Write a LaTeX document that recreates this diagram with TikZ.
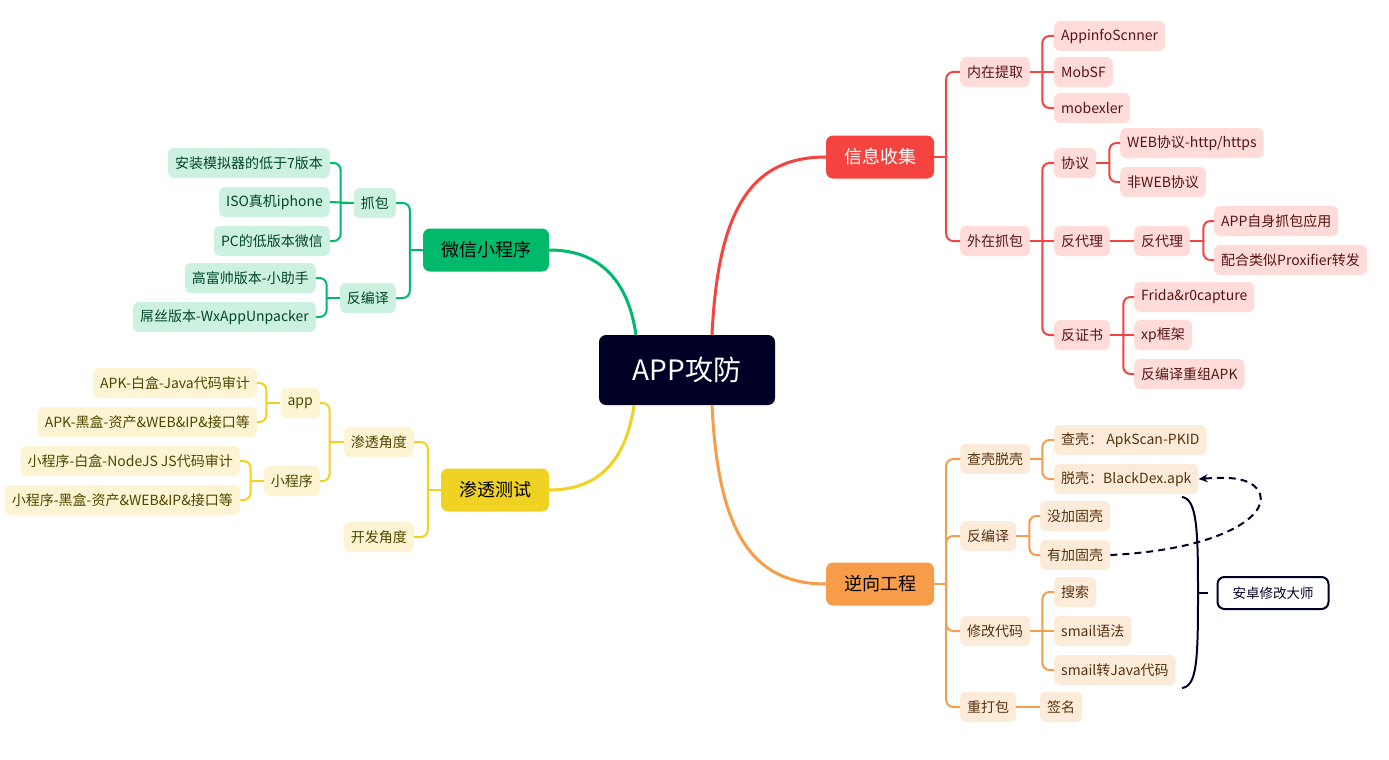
\documentclass[tikz,border=0pt]{standalone}
\usepackage{fontspec}
\setmainfont{Noto Sans CJK SC}
\usetikzlibrary{arrows.meta,calc}
\definecolor{rootC}{RGB}{0,0,38}
\definecolor{redM}{RGB}{245,68,63}
\definecolor{redL}{RGB}{255,220,218}
\definecolor{redT}{RGB}{85,20,20}
\definecolor{orM}{RGB}{247,156,72}
\definecolor{orL}{RGB}{253,235,218}
\definecolor{orT}{RGB}{85,50,15}
\definecolor{grM}{RGB}{0,185,107}
\definecolor{grL}{RGB}{204,241,225}
\definecolor{grT}{RGB}{0,70,40}
\definecolor{yeM}{RGB}{240,210,35}
\definecolor{yeL}{RGB}{252,244,210}
\definecolor{yeT}{RGB}{80,70,0}
\tikzset{
  leaf/.style={rounded corners=6pt, inner xsep=7pt, inner ysep=0pt, minimum height=30pt, font=\fontsize{14}{16}\selectfont},
  rleaf/.style={leaf, fill=redL, text=redT, anchor=west},
  oleaf/.style={leaf, fill=orL, text=orT, anchor=west},
  gleaf/.style={leaf, fill=grL, text=grT, anchor=east},
  yleaf/.style={leaf, fill=yeL, text=yeT, anchor=east},
  mainnode/.style={rounded corners=7pt, minimum height=43pt, inner xsep=0pt, font=\fontsize{18}{22}\selectfont},
  rline/.style={draw=redM, line width=2pt},
  oline/.style={draw=orM, line width=2pt},
  gline/.style={draw=grM, line width=2pt},
  yline/.style={draw=yeM, line width=2pt},
  navyline/.style={draw=rootC, line width=2pt},
}
\newcommand{\rcon}[4]{\draw[#1] (#2.east) -- ++(#4,0) coordinate (jn); \draw[#1,rounded corners=7pt] (jn) |- (#3.west);}
\newcommand{\lcon}[4]{\draw[#1] (#2.west) -- ++(-#4,0) coordinate (jn); \draw[#1,rounded corners=7pt] (jn) |- (#3.east);}
\begin{document}
\begin{tikzpicture}[x=1pt,y=-1pt]
\useasboundingbox[fill=white] (0,0) rectangle (1389,760);

% root and main nodes
\node[fill=rootC, text=white, rounded corners=7pt, minimum width=176pt, minimum height=70pt, font=\fontsize{28}{32}\selectfont] (root) at (687,370) {APP攻防};
\node[mainnode, fill=redM, text=white, minimum width=108pt] (xx) at (880,157) {信息收集};
\node[mainnode, fill=orM, text=black, minimum width=108pt] (nx) at (880,584) {逆向工程};
\node[mainnode, fill=grM, text=black, minimum width=126pt] (wx) at (486,250) {微信小程序};
\node[mainnode, fill=yeM, text=black, minimum width=108pt] (st) at (495,490) {渗透测试};

\draw[redM, line width=3pt] ($(root.north)+(25,0)$) .. controls +(6,-125) and +(-75,0) .. (xx.west);
\draw[orM, line width=3pt] ($(root.south)+(25,0)$) .. controls +(6,125) and +(-75,0) .. (nx.west);
\draw[grM, line width=3pt] ($(root.north)+(-51,0)$) .. controls +(-8,-55) and +(50,0) .. (wx.east);
\draw[yeM, line width=3pt] ($(root.south)+(-53,0)$) .. controls +(-8,55) and +(50,0) .. (st.east);

% red subtree
\node[rleaf] (nz) at (960,72) {内在提取};
\node[rleaf] (a1) at (1054,36) {AppinfoScnner};
\node[rleaf] (a2) at (1054,72) {MobSF};
\node[rleaf] (a3) at (1054,108) {mobexler};
\node[rleaf] (wz) at (960,241) {外在抓包};
\node[rleaf] (xy) at (1054,163) {协议};
\node[rleaf] (w1) at (1120,143) {WEB协议-http/https};
\node[rleaf] (w2) at (1120,182) {非WEB协议};
\node[rleaf] (fd1) at (1054,241) {反代理};
\node[rleaf] (fd2) at (1134,241) {反代理};
\node[rleaf] (p1) at (1214,221) {APP自身抓包应用};
\node[rleaf] (p2) at (1214,260) {配合类似Proxifier转发};
\node[rleaf] (fz) at (1054,335) {反证书};
\node[rleaf] (z1) at (1134,297) {Frida\&r0capture};
\node[rleaf] (z2) at (1134,335) {xp框架};
\node[rleaf] (z3) at (1134,374) {反编译重组APK};

\rcon{rline}{xx}{nz}{12}
\rcon{rline}{xx}{wz}{12}
\rcon{rline}{nz}{a1}{12}
\rcon{rline}{nz}{a3}{12}
\draw[rline] (nz.east) -- (a2.west);
\rcon{rline}{wz}{xy}{12}
\rcon{rline}{wz}{fz}{12}
\draw[rline] (wz.east) -- (fd1.west);
\rcon{rline}{xy}{w1}{13}
\rcon{rline}{xy}{w2}{13}
\draw[rline] (fd1.east) -- (fd2.west);
\rcon{rline}{fd2}{p1}{13}
\rcon{rline}{fd2}{p2}{13}
\rcon{rline}{fz}{z1}{13}
\rcon{rline}{fz}{z3}{13}
\draw[rline] (fz.east) -- (z2.west);

% orange subtree
\node[oleaf] (ck) at (960,459) {查壳脱壳};
\node[oleaf] (k1) at (1054,440) {查壳：\ ApkScan-PKID};
\node[oleaf] (k2) at (1054,479) {脱壳：BlackDex.apk};
\node[oleaf] (fb) at (960,536) {反编译};
\node[oleaf] (g1) at (1040,516) {没加固壳};
\node[oleaf] (g2) at (1040,555) {有加固壳};
\node[oleaf] (xg) at (960,631) {修改代码};
\node[oleaf] (s1) at (1054,592) {搜索};
\node[oleaf] (s2) at (1054,631) {smail语法};
\node[oleaf] (s3) at (1054,670) {smail转Java代码};
\node[oleaf] (cd) at (960,707) {重打包};
\node[oleaf] (qm) at (1040,707) {签名};

\rcon{oline}{nx}{ck}{12}
\rcon{oline}{nx}{fb}{12}
\rcon{oline}{nx}{xg}{12}
\rcon{oline}{nx}{cd}{12}
\rcon{oline}{ck}{k1}{12}
\rcon{oline}{ck}{k2}{12}
\rcon{oline}{fb}{g1}{13}
\rcon{oline}{fb}{g2}{13}
\rcon{oline}{xg}{s1}{12}
\rcon{oline}{xg}{s3}{12}
\draw[oline] (xg.east) -- (s2.west);
\draw[oline] (cd.east) -- (qm.west);

% brace and label
\node[draw=rootC, line width=2pt, fill=white, rounded corners=7pt, minimum width=111pt, minimum height=32pt, font=\fontsize{13.5}{16}\selectfont, text=rootC] (am) at (1273,593) {安卓修改大师};
\coordinate (bt) at (1198,593);
\coordinate (bs) at (1182,497);
\coordinate (be) at (1182,688);
\draw[navyline] (bs) .. controls (1197,499) and (1198,530) .. (bt) .. controls (1198,660) and (1197,686) .. (be);
\draw[navyline] (bt) -- ++(10,0);

\draw[navyline, dash pattern=on 7pt off 5pt, -{Stealth[length=9pt,width=8pt]}] (g2.east) .. controls (1215,550) and (1268,518) .. (1260,494) .. controls (1253,476) and (1225,477) .. (k2.east);

% green subtree
\node[gleaf] (zb) at (396,203) {抓包};
\node[gleaf] (gfb) at (396,298) {反编译};
\node[gleaf] (e1) at (330,163) {安装模拟器的低于7版本};
\node[gleaf] (e2) at (330,202) {ISO真机iphone};
\node[gleaf] (e3) at (330,241) {PC的低版本微信};
\node[gleaf] (e4) at (316,278) {高富帅版本-小助手};
\node[gleaf] (e5) at (316,317) {屌丝版本-WxAppUnpacker};

\lcon{gline}{wx}{zb}{13}
\lcon{gline}{wx}{gfb}{13}
\lcon{gline}{zb}{e1}{13}
\lcon{gline}{zb}{e3}{13}
\draw[gline] (zb.west) -- (e2.east);
\lcon{gline}{gfb}{e4}{13}
\lcon{gline}{gfb}{e5}{13}

% yellow subtree
\node[yleaf] (sj) at (414,442) {渗透角度};
\node[yleaf] (kf) at (414,537) {开发角度};
\node[yleaf] (app) at (320,403) {app};
\node[yleaf] (xcx) at (320,481) {小程序};
\node[yleaf] (y1) at (257,383) {APK-白盒-Java代码审计};
\node[yleaf] (y2) at (257,422) {APK-黑盒-资产\&WEB\&IP\&接口等};
\node[yleaf] (y3) at (240,461) {小程序-白盒-NodeJS JS代码审计};
\node[yleaf] (y4) at (240,500) {小程序-黑盒-资产\&WEB\&IP\&接口等};

\lcon{yline}{st}{sj}{13}
\lcon{yline}{st}{kf}{13}
\lcon{yline}{sj}{app}{14}
\lcon{yline}{sj}{xcx}{14}
\lcon{yline}{app}{y1}{14}
\lcon{yline}{app}{y2}{14}
\lcon{yline}{xcx}{y3}{13}
\lcon{yline}{xcx}{y4}{13}
\end{tikzpicture}
\end{document}
